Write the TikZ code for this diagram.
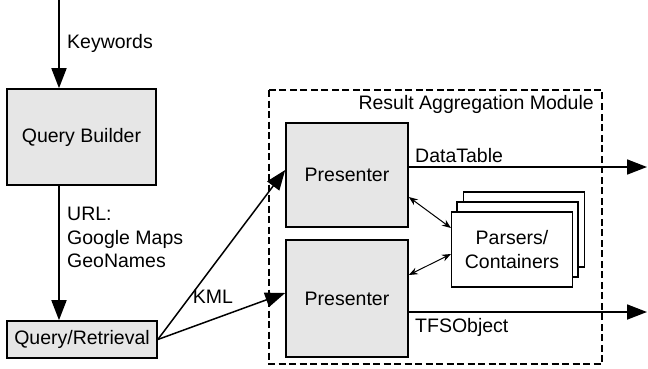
\documentclass[tikz,border=0pt]{standalone}
\usepackage{fontspec}
\setmainfont{Liberation Sans}
\usetikzlibrary{arrows.meta,calc}
\definecolor{boxgray}{RGB}{230,230,230}
\begin{document}
\begin{tikzpicture}[x=1pt,y=-1pt,
  every node/.style={font=\fontsize{19.5}{23.5}\selectfont, inner sep=0pt},
  gbox/.style={draw, line width=1.6pt, fill=boxgray, minimum width=#1},
  wbox/.style={draw, line width=1.1pt, fill=white, minimum width=121pt, minimum height=75pt, align=center},
  arr/.style={line width=1.8pt, -{Triangle[length=20pt,width=15pt]}},
  thinarr/.style={line width=1pt, {Stealth[length=9pt,width=7pt]}-{Stealth[length=9pt,width=7pt]}},
  lbl/.style={anchor=west, align=left}]
\useasboundingbox (0,0) rectangle (648,369);
% module frame
\draw[line width=2pt, dash pattern=on 7pt off 3.5pt] (269,90) rectangle (602,364);
\node[anchor=east] (ram) at (594,104) {Result Aggregation Module};
% boxes
\node[gbox=149pt, minimum height=96pt] (qb) at (81.5,137) {Query Builder};
\node[gbox=150pt, minimum height=37pt] (qr) at (82,339.5) {Query/Retrieval};
\node[gbox=122pt, minimum height=104pt] (p1) at (347,175) {Presenter};
\node[gbox=122pt, minimum height=117pt] (p2) at (347,298.5) {Presenter};
\node[wbox] (pb) at (524,229.5) {};
\node[wbox] (pm) at (517.5,239.5) {};
\node[wbox] (pc) at (512,249.5) {Parsers/\\Containers};
% coordinates
\coordinate (kw) at (59,0);
\coordinate (out1) at (647,167);
\coordinate (out2) at (647,312);
% connectors
\draw[arr] (kw) -- (kw |- qb.north);
\node[lbl] (kwl) at (67,43) {Keywords};
\draw[arr] (qb.south -| kw) -- (qr.north -| kw);
\node[lbl, anchor=north west] (url) at (67,207) {URL:\\Google Maps\\GeoNames};
\draw[arr, line width=1.5pt] (qr.east) -- ([yshift=5pt]p1.west);
\draw[arr, line width=1.5pt] (qr.east) -- ([yshift=5.5pt]p2.west);
\node (kml) at (213,297) {KML};
\draw[arr] (p1.east |- out1) -- (out1);
\node[lbl] (dt) at (415,156) {DataTable};
\draw[arr] (p2.east |- out2) -- (out2);
\node[lbl] (tfs) at (415,327) {TFSObject};
\draw[thinarr] ([yshift=-22pt]p1.east) -- ([yshift=21.5pt]pc.west);
\draw[thinarr] ([yshift=23.5pt]p2.east) -- ([yshift=-4.5pt]pc.west);
\end{tikzpicture}
\end{document}
